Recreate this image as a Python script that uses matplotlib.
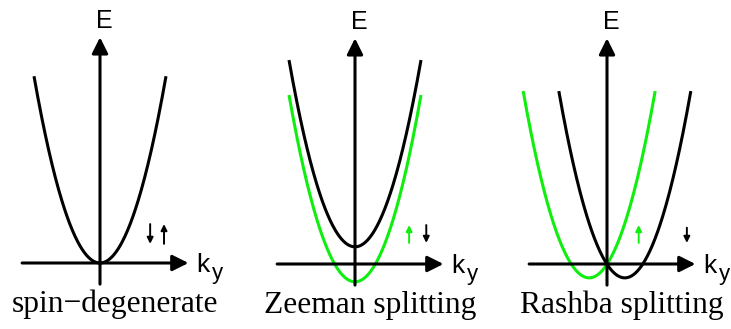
import numpy as np
import matplotlib.pyplot as plt

# parabola: E = a*(k - k0)^2 + E0, k in units of ~66 px, E same units
a = 2.83
k_half = 1.0

titles = ["spin\u2212degenerate", "Zeeman splitting", "Rashba splitting"]
# branches per panel
k0_black = [0.0, 0.0, 0.27]
E0_black = [0.0, 0.26, -0.21]
k0_green = [None, 0.0, -0.27]
E0_green = [None, -0.27, -0.21]

# spin arrows: (k, E_start, E_end, colour)
spin_arrows = [
    [(0.76, 0.59, 0.29, 'k'), (0.97, 0.29, 0.59, 'k')],
    [(0.82, 0.32, 0.59, 'g'), (1.08, 0.59, 0.32, 'k')],
    [(0.48, 0.32, 0.59, 'g'), (1.21, 0.55, 0.32, 'k')],
]

green = '#10ee10'
origins_px = [(100, 263), (355, 264), (607, 264)]
title_k = [0.23, 0.23, 0.23]

W, H = 731, 329
unit = 66.0
kmin, kmax = -1.6, 1.9
Emin, Emax = -0.6, 3.95

fig = plt.figure(figsize=(W / 100, H / 100), dpi=100)

for i in range(3):
    ox, oy = origins_px[i]
    left = (ox + kmin * unit) / W
    bottom = (H - oy + Emin * unit) / H
    ax = fig.add_axes([left, bottom, (kmax - kmin) * unit / W, (Emax - Emin) * unit / H])
    ax.set_xlim(kmin, kmax)
    ax.set_ylim(Emin, Emax)
    ax.axis('off')

    # axes with arrows
    ax.annotate('', xy=(1.34, 0), xytext=(-1.18, 0),
                arrowprops=dict(arrowstyle='-|>', lw=2.2, color='k', mutation_scale=24,
                                shrinkA=0, shrinkB=0))
    ax.annotate('', xy=(0, 3.42), xytext=(0, -0.32),
                arrowprops=dict(arrowstyle='-|>', lw=2.2, color='k', mutation_scale=24,
                                shrinkA=0, shrinkB=0))

    k = np.linspace(-k_half, k_half, 200)
    if k0_green[i] is not None:
        ax.plot(k + k0_green[i], a * k**2 + E0_green[i], color=green, lw=2.2,
                solid_capstyle='butt')
    ax.plot(k + k0_black[i], a * k**2 + E0_black[i], color='k', lw=2.2,
            solid_capstyle='butt')

    for (ks, e1, e2, c) in spin_arrows[i]:
        ax.annotate('', xy=(ks, e2), xytext=(ks, e1),
                    arrowprops=dict(arrowstyle='-|>', lw=1.4, color=green if c == 'g' else 'k',
                                    mutation_scale=9, shrinkA=0, shrinkB=0))

    ax.text(0.07, 3.67, 'E', fontsize=18, family='Liberation Sans', ha='center', va='center')
    ax.text(1.46, -0.13, 'k', fontsize=19, family='Liberation Sans', ha='left', va='baseline')
    ax.text(1.69, -0.24, 'y', fontsize=16, family='Liberation Sans', ha='left', va='baseline')
    ax.text(title_k[i] if i else 0.22, -0.74, titles[i], fontsize=22.7, family='Liberation Serif',
            ha='center', va='baseline', clip_on=False)

plt.savefig('out.png', dpi=100)
